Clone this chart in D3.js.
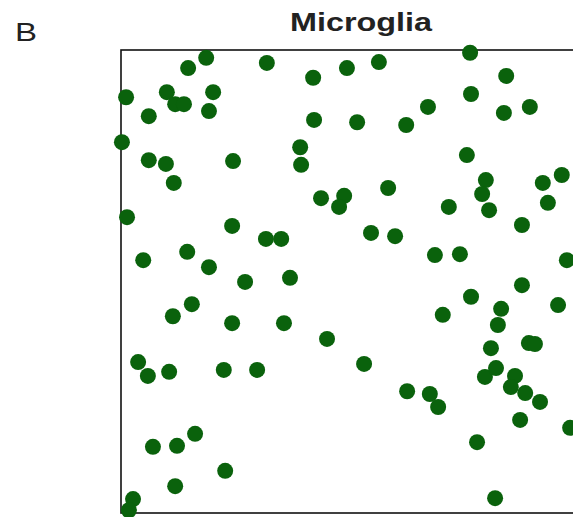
<!DOCTYPE html>
<html>
<head>
<meta charset="utf-8">
<script src="https://cdn.jsdelivr.net/npm/d3@7"></script>
<style>
	html, body { margin: 0; padding: 0; background: #fff; overflow: hidden; }
	svg { display: block; }
</style>
</head>
<body>
<svg width="573" height="517"></svg>
<script>
'use strict';

// cell positions, both axes on a 0-100 scale
var cellX = [
	18.4, 14.5, 31.5, 41.5, 48.8, 55.7, 75.4, 83.2,
	1.1, 9.9, 11.7, 13.6, 19.9, 19.0, 6.0, 41.7, 51.0, 61.6, 66.3, 75.6, 82.7, 88.3,
	0.2, 6.0, 9.7, 11.4, 24.2, 38.7, 38.9, 74.7,
	43.2, 48.2, 47.1, 57.7, 78.8, 78.0, 79.5, 70.8, 91.1, 95.2, 92.2,
	1.3, 24.0, 86.6, 31.3, 34.6, 14.3, 4.8, 19.0, 54.0, 59.2, 67.8, 73.2, 96.3,
	26.8, 36.5, 86.6, 15.3, 11.2, 24.0, 35.2, 75.6, 82.1, 81.4, 94.4, 69.5,
	44.5, 52.5, 3.7, 5.8, 10.4, 22.2, 29.4, 79.9, 88.1, 89.4, 78.6, 81.0, 85.1, 84.2,
	87.3, 90.5, 61.8, 66.7, 68.5, 86.2, 97.0,
	16.0, 12.1, 6.9, 76.9, 22.5, 11.7, 80.8, 2.6, 1.7
];
var cellY = [
	98.3, 96.1, 97.2, 94.0, 96.1, 97.4, 99.4, 94.4,
	89.8, 90.9, 88.3, 88.3, 90.9, 86.8, 85.7, 84.9, 84.4, 83.8, 87.7, 90.5, 86.4, 87.7,
	80.1, 76.2, 75.4, 71.3, 76.0, 79.0, 75.2, 77.3,
	68.0, 68.5, 66.1, 70.2, 71.9, 68.9, 65.4, 66.1, 71.3, 73.0, 67.0,
	63.9, 62.0, 62.2, 59.2, 59.2, 56.4, 54.6, 53.1, 60.5, 59.8, 55.7, 55.9, 54.6,
	49.9, 50.8, 49.2, 45.1, 42.5, 41.0, 41.0, 46.7, 44.1, 40.6, 44.9, 42.8,
	37.6, 32.2, 32.6, 29.6, 30.5, 30.9, 30.9, 35.6, 36.7, 36.5, 29.4, 31.3, 29.6, 27.2,
	25.9, 24.0, 26.3, 25.7, 22.9, 20.1, 18.4,
	17.1, 14.5, 14.3, 15.3, 9.1, 5.8, 3.2, 3.0, 0.6
];

var panelLabel = 'B';
var chartTitle = 'Microglia';

var svg = d3.select('svg');

// the square frame runs off the right side of the window
var frame = { left : 121, top : 50, size : 463 };

var x = d3.scaleLinear().domain([0, 100]).range([frame.left, frame.left + frame.size]);
var y = d3.scaleLinear().domain([0, 100]).range([frame.top + frame.size, frame.top]);

svg.append('rect')
	.attr('x', x(0))
	.attr('y', y(100))
	.attr('width', x(100) - x(0))
	.attr('height', y(0) - y(100))
	.attr('fill', 'none')
	.attr('stroke', '#111')
	.attr('stroke-width', 1.6);

svg.append('g')
	.attr('class', 'cells')
	.selectAll('circle')
		.data(d3.range(cellX.length))
	.enter()
		.append('circle')
		.attr('cx', function (i) { return x(cellX[i]); })
		.attr('cy', function (i) { return y(cellY[i]); })
		.attr('r', 8)
		.attr('fill', '#0a620c');

// text in the source is drawn a little wide, so stretch it to the measured width
svg.append('text')
	.attr('x', 290)
	.attr('y', 31)
	.attr('font-family', 'Liberation Sans, Arial, sans-serif')
	.attr('font-weight', 'bold')
	.attr('font-size', 25)
	.attr('fill', '#222')
	.attr('textLength', 142)
	.attr('lengthAdjust', 'spacingAndGlyphs')
	.text(chartTitle);

svg.append('text')
	.attr('x', 15)
	.attr('y', 41)
	.attr('font-family', 'Liberation Sans, Arial, sans-serif')
	.attr('font-size', 26)
	.attr('fill', '#222')
	.attr('textLength', 22)
	.attr('lengthAdjust', 'spacingAndGlyphs')
	.text(panelLabel);
</script>
</body>
</html>
